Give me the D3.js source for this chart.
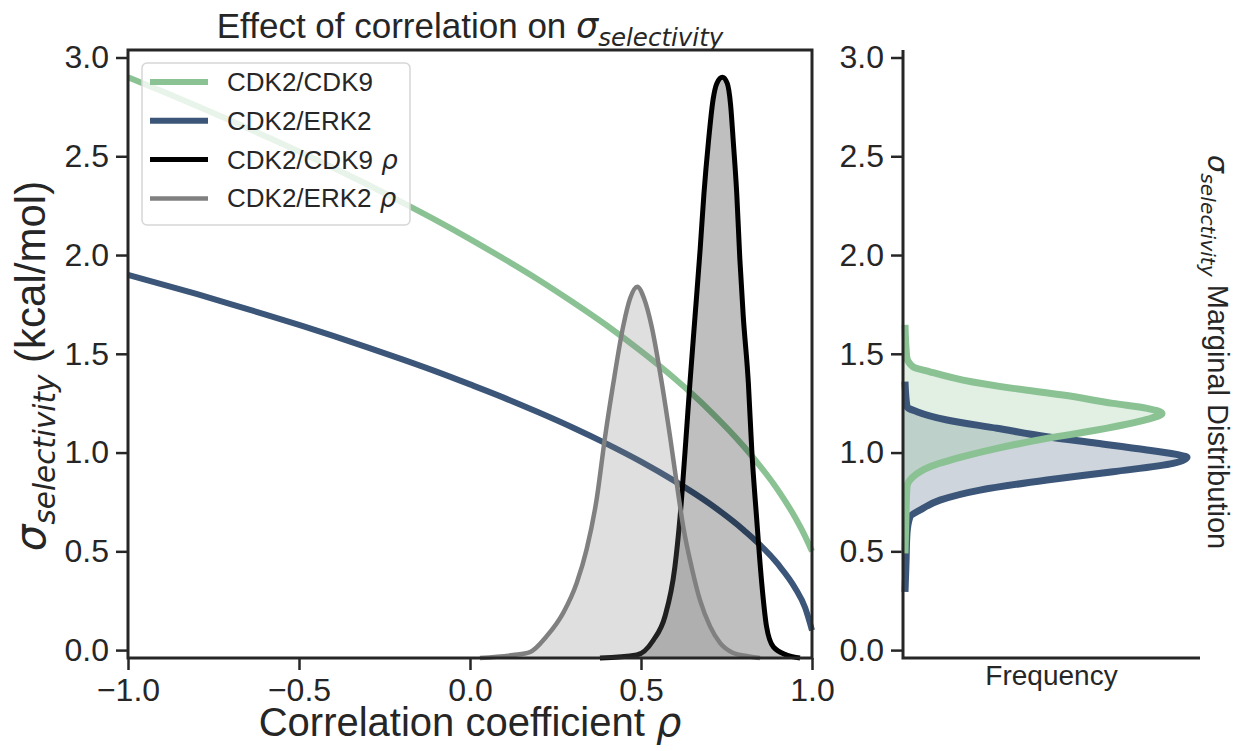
<!DOCTYPE html>
<html>
<head>
<meta charset="utf-8">
<script src="https://cdn.jsdelivr.net/npm/d3@7"></script>
<style>
  body { margin: 0; background: #fff; }
  text { fill: #262626; font-family: "Liberation Sans", Arial, sans-serif; }
</style>
</head>
<body>
<div id="chart"></div>
<script>
// ---- data ----

// sigma_selectivity as a function of rho
const rhoGrid = [-1.0, -0.9, -0.8, -0.7, -0.6, -0.5, -0.4, -0.3, -0.2, -0.1, 0.0, 0.1, 0.2, 0.3, 0.4, 0.5, 0.6, 0.7, 0.8, 0.9, 0.95, 0.98, 1.0];
const sigmaCdk9 = [2.900, 2.829, 2.756, 2.681, 2.603, 2.524, 2.442, 2.357, 2.268, 2.177, 2.081, 1.980, 1.875, 1.762, 1.643, 1.513, 1.372, 1.214, 1.032, 0.811, 0.674, 0.576, 0.500];
const sigmaErk2 = [1.900, 1.852, 1.803, 1.752, 1.700, 1.646, 1.591, 1.533, 1.473, 1.411, 1.345, 1.277, 1.204, 1.127, 1.044, 0.954, 0.854, 0.742, 0.608, 0.436, 0.316, 0.214, 0.100];

// rho densities (drawn on a hidden twin axis)
const rhoCdk9 = [0.380, 0.487, 0.536, 0.570, 0.599, 0.614, 0.629, 0.643, 0.658, 0.673, 0.684, 0.697, 0.711, 0.722, 0.738, 0.752, 0.762, 0.770, 0.780, 0.789, 0.799, 0.814, 0.824, 0.838, 0.853, 0.867, 0.887, 0.926, 0.965];
const densCdk9 = [0, 0.015, 0.09, 0.21, 0.46, 0.71, 1.05, 1.39, 1.73, 2.07, 2.35, 2.61, 2.83, 2.91, 2.94, 2.91, 2.80, 2.61, 2.35, 2.02, 1.73, 1.39, 1.05, 0.71, 0.38, 0.16, 0.056, 0.015, 0];
const rhoErk2 = [0.029, 0.126, 0.175, 0.224, 0.273, 0.312, 0.341, 0.370, 0.395, 0.419, 0.448, 0.468, 0.489, 0.509, 0.531, 0.561, 0.585, 0.604, 0.624, 0.648, 0.673, 0.702, 0.731, 0.770, 0.809, 0.848];
const densErk2 = [0, 0.015, 0.03, 0.11, 0.23, 0.38, 0.55, 0.80, 1.12, 1.39, 1.68, 1.82, 1.88, 1.82, 1.68, 1.39, 1.12, 0.89, 0.66, 0.46, 0.29, 0.16, 0.076, 0.025, 0.01, 0];

// marginal distributions of sigma_selectivity
const margSigmaCdk9 = [1.646, 1.485, 1.435, 1.409, 1.367, 1.325, 1.291, 1.249, 1.224, 1.198, 1.168, 1.114, 1.072, 1.021, 0.979, 0.928, 0.877, 0.827, 0.690, 0.490];
const margFreqCdk9 = [0.02, 0.037, 0.10, 0.27, 0.60, 1.10, 1.60, 2.10, 2.44, 2.59, 2.44, 1.94, 1.44, 0.94, 0.60, 0.27, 0.10, 0.04, 0.03, 0.02];
const margSigmaErk2 = [1.359, 1.232, 1.207, 1.165, 1.123, 1.080, 1.047, 1.013, 0.987, 0.976, 0.945, 0.903, 0.861, 0.810, 0.759, 0.709, 0.675, 0.591, 0.439, 0.295];
const margFreqErk2 = [0.02, 0.04, 0.14, 0.44, 0.94, 1.44, 1.94, 2.44, 2.77, 2.84, 2.70, 2.10, 1.44, 0.77, 0.37, 0.17, 0.07, 0.04, 0.03, 0.02];

const xTicks = [-1.0, -0.5, 0.0, 0.5, 1.0];
const yTicks = [0.0, 0.5, 1.0, 1.5, 2.0, 2.5, 3.0];
const legendLabels = ["CDK2/CDK9", "CDK2/ERK2", "CDK2/CDK9", "CDK2/ERK2"];

// ---- layout ----
const width = 1236, height = 751;
const main = { left: 128, right: 812, top: 50, bottom: 658 };
const side = { left: 903, right: 1200 };

const green = "#8ac294", blue = "#3b5678", ink = "#262626";
const mathFont = "DejaVu Sans";

let svg = d3.select("#chart").append("svg")
    .attr("width", width)
    .attr("height", height);

let x = d3.scaleLinear().domain([-1, 1]).range([main.left, main.right]);
let y = d3.scaleLinear().domain([-0.04, 3.038]).range([main.bottom, main.top]);
// twin axis for the rho densities, zero sits on the bottom spine
let yDens = d3.scaleLinear().domain([0, 3.078]).range([main.bottom, main.top]);
let xFreq = d3.scaleLinear().domain([0, 2.97]).range([side.left, side.right]);

// sigma with a subscript, matplotlib mathtext style
function addSigma(t, size) {
    t.append("tspan").attr("font-family", mathFont).attr("font-style", "italic").text("σ");
    t.append("tspan").attr("font-family", mathFont).attr("font-style", "italic")
        .attr("font-size", size * 0.7).attr("dy", size * 0.24).text("selectivity");
}

// ---- main panel ----
let line = d3.line().x(d => x(d[0])).y(d => y(d[1])).curve(d3.curveMonotoneX);

svg.append("path")
    .datum(rhoGrid.map((r, i) => [r, sigmaCdk9[i]]))
    .attr("d", line).attr("fill", "none").attr("stroke", green).attr("stroke-width", 6);
svg.append("path")
    .datum(rhoGrid.map((r, i) => [r, sigmaErk2[i]]))
    .attr("d", line).attr("fill", "none").attr("stroke", blue).attr("stroke-width", 6);

let densArea = d3.area().x(d => x(d[0])).y0(yDens(0)).y1(d => yDens(d[1])).curve(d3.curveMonotoneX);
let densLine = d3.line().x(d => x(d[0])).y(d => yDens(d[1])).curve(d3.curveMonotoneX);

[[rhoCdk9, densCdk9, "#000000", 5], [rhoErk2, densErk2, "#808080", 4.5]].forEach(([rs, ds, c, w]) => {
    let pts = rs.map((r, i) => [r, ds[i]]);
    svg.append("path").datum(pts).attr("d", densArea).attr("fill", c).attr("fill-opacity", 0.25);
    svg.append("path").datum(pts).attr("d", densLine).attr("fill", "none").attr("stroke", c).attr("stroke-width", w);
});

// axes
let xAxis = svg.append("g").attr("transform", `translate(0,${main.bottom})`)
    .call(d3.axisBottom(x).tickValues(xTicks).tickFormat(d3.format(".1f")).tickSize(12).tickPadding(8));
let yAxis = svg.append("g").attr("transform", `translate(${main.left},0)`)
    .call(d3.axisLeft(y).tickValues(yTicks).tickFormat(d3.format(".1f")).tickSize(12).tickPadding(7));
let yAxis2 = svg.append("g").attr("transform", `translate(${side.left},0)`)
    .call(d3.axisLeft(y).tickValues(yTicks).tickFormat(d3.format(".1f")).tickSize(12).tickPadding(7));

[xAxis, yAxis, yAxis2].forEach(a => {
    a.select(".domain").remove();
    a.selectAll("line").attr("stroke", ink).attr("stroke-width", 2.5);
    a.selectAll("text").attr("font-size", 32).attr("font-family", "Liberation Sans, Arial, sans-serif").attr("fill", ink);
});

// spines
svg.append("rect")
    .attr("x", main.left).attr("y", main.top)
    .attr("width", main.right - main.left).attr("height", main.bottom - main.top)
    .attr("fill", "none").attr("stroke", ink).attr("stroke-width", 3);

// legend
let leg = svg.append("g");
leg.append("rect")
    .attr("x", 142).attr("y", 63).attr("width", 268).attr("height", 162).attr("rx", 5)
    .attr("fill", "#fff").attr("fill-opacity", 0.8).attr("stroke", "#d6d6d6").attr("stroke-width", 1.5);
let legColors = [green, blue, "#000000", "#808080"];
let legWidths = [6, 6, 5, 4.5];
legendLabels.forEach((lab, i) => {
    let ry = 82 + i * 38.8;
    leg.append("line").attr("x1", 150).attr("x2", 208).attr("y1", ry).attr("y2", ry)
        .attr("stroke", legColors[i]).attr("stroke-width", legWidths[i]);
    let t = leg.append("text").attr("x", 227).attr("y", ry + 9).attr("font-size", 26).text(lab);
    if (i >= 2) t.append("tspan").attr("font-family", mathFont).attr("font-style", "italic").text(" ρ");
});

// title
let title = svg.append("text").attr("x", (main.left + main.right) / 2).attr("y", 38)
    .attr("text-anchor", "middle").attr("font-size", 35);
title.append("tspan").text("Effect of correlation on ");
addSigma(title, 35);

// x label
let xl = svg.append("text").attr("x", (main.left + main.right) / 2).attr("y", 736)
    .attr("text-anchor", "middle").attr("font-size", 40);
xl.append("tspan").text("Correlation coefficient ");
xl.append("tspan").attr("font-family", mathFont).attr("font-style", "italic").text("ρ");

// y label
let yl = svg.append("text").attr("transform", "translate(45,366) rotate(-90)")
    .attr("text-anchor", "middle").attr("font-size", 42);
addSigma(yl, 42);
yl.append("tspan").attr("dy", -42 * 0.24).text(" (kcal/mol)");

// ---- marginal panel ----
let margArea = d3.area().y(d => y(d[0])).x0(xFreq(0)).x1(d => xFreq(d[1])).curve(d3.curveMonotoneY);
let margLine = d3.line().y(d => y(d[0])).x(d => xFreq(d[1])).curve(d3.curveMonotoneY);

let erkPts = margSigmaErk2.map((s, i) => [s, margFreqErk2[i]]);
let cdkPts = margSigmaCdk9.map((s, i) => [s, margFreqCdk9[i]]);

svg.append("path").datum(erkPts).attr("d", margArea).attr("fill", blue).attr("fill-opacity", 0.25);
svg.append("path").datum(cdkPts).attr("d", margArea).attr("fill", green).attr("fill-opacity", 0.25);
svg.append("path").datum(erkPts).attr("d", margLine).attr("fill", "none").attr("stroke", blue).attr("stroke-width", 7);
svg.append("path").datum(cdkPts).attr("d", margLine).attr("fill", "none").attr("stroke", green).attr("stroke-width", 7);

// spines: left and bottom only
svg.append("path")
    .attr("d", `M${side.left},${main.top} V${main.bottom} H${side.right}`)
    .attr("fill", "none").attr("stroke", ink).attr("stroke-width", 3);

svg.append("text").attr("x", (side.left + side.right) / 2).attr("y", 685)
    .attr("text-anchor", "middle").attr("font-size", 28).text("Frequency");

let rl = svg.append("text").attr("transform", "translate(1208,352) rotate(90)")
    .attr("text-anchor", "middle").attr("font-size", 29);
addSigma(rl, 29);
rl.append("tspan").attr("dy", -29 * 0.24).text(" Marginal Distribution");
</script>
</body>
</html>
